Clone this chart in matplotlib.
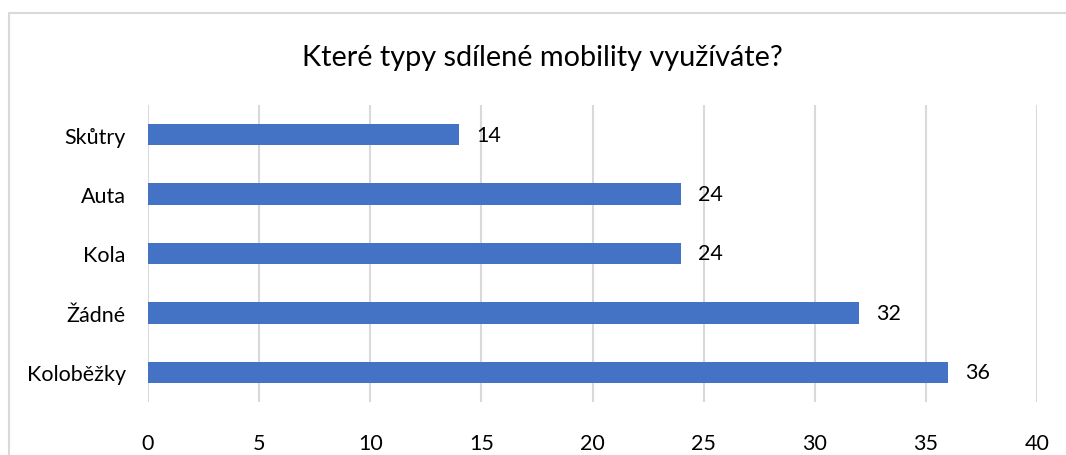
import matplotlib
matplotlib.use("Agg")
import matplotlib.pyplot as plt
from matplotlib.patches import Rectangle

categories = ["Koloběžky", "Žádné", "Kola", "Auta", "Skůtry"]
values = [36, 32, 24, 24, 14]
xticks = [0, 5, 10, 15, 20, 25, 30, 35, 40]
title = "Které typy sdílené mobility využíváte?"

plt.rcParams['font.family'] = ['Lato', 'DejaVu Sans']

fig = plt.figure(figsize=(10.66, 4.56), dpi=100)
# chart frame
fig.patches.append(Rectangle((9/1066, -0.1), 1.2, 1 - 14/456 + 0.1, transform=fig.transFigure,
                             fill=False, edgecolor="#D9D9D9", linewidth=1.5))

ax = fig.add_axes([148/1066, 1 - 403/456, (1037 - 148)/1066, (403 - 106)/456])
y = range(len(categories))
ax.barh(list(y), values, height=0.36, color="#4472C4", zorder=3)
for yi, v in zip(y, values):
    ax.text(v + 0.75, yi, str(v), va="center", ha="left", fontsize=15.5, color="black")

ax.set_xlim(0, 40)
ax.set_ylim(-0.5, len(categories) - 0.5)
ax.set_xticks(xticks)
ax.set_yticks(list(y))
ax.set_yticklabels(categories)
ax.tick_params(axis="both", length=0, labelsize=15.5, colors="black")
ax.tick_params(axis="x", pad=22)
ax.tick_params(axis="y", pad=16)
ax.grid(axis="x", color="#D9D9D9", linewidth=1.5, zorder=0)
for s in ax.spines.values():
    s.set_visible(False)

fig.text(542/1066, 1 - 58/456, title, ha="center", va="center", fontsize=20.8, color="black")

fig.savefig("out.png", dpi=100)
